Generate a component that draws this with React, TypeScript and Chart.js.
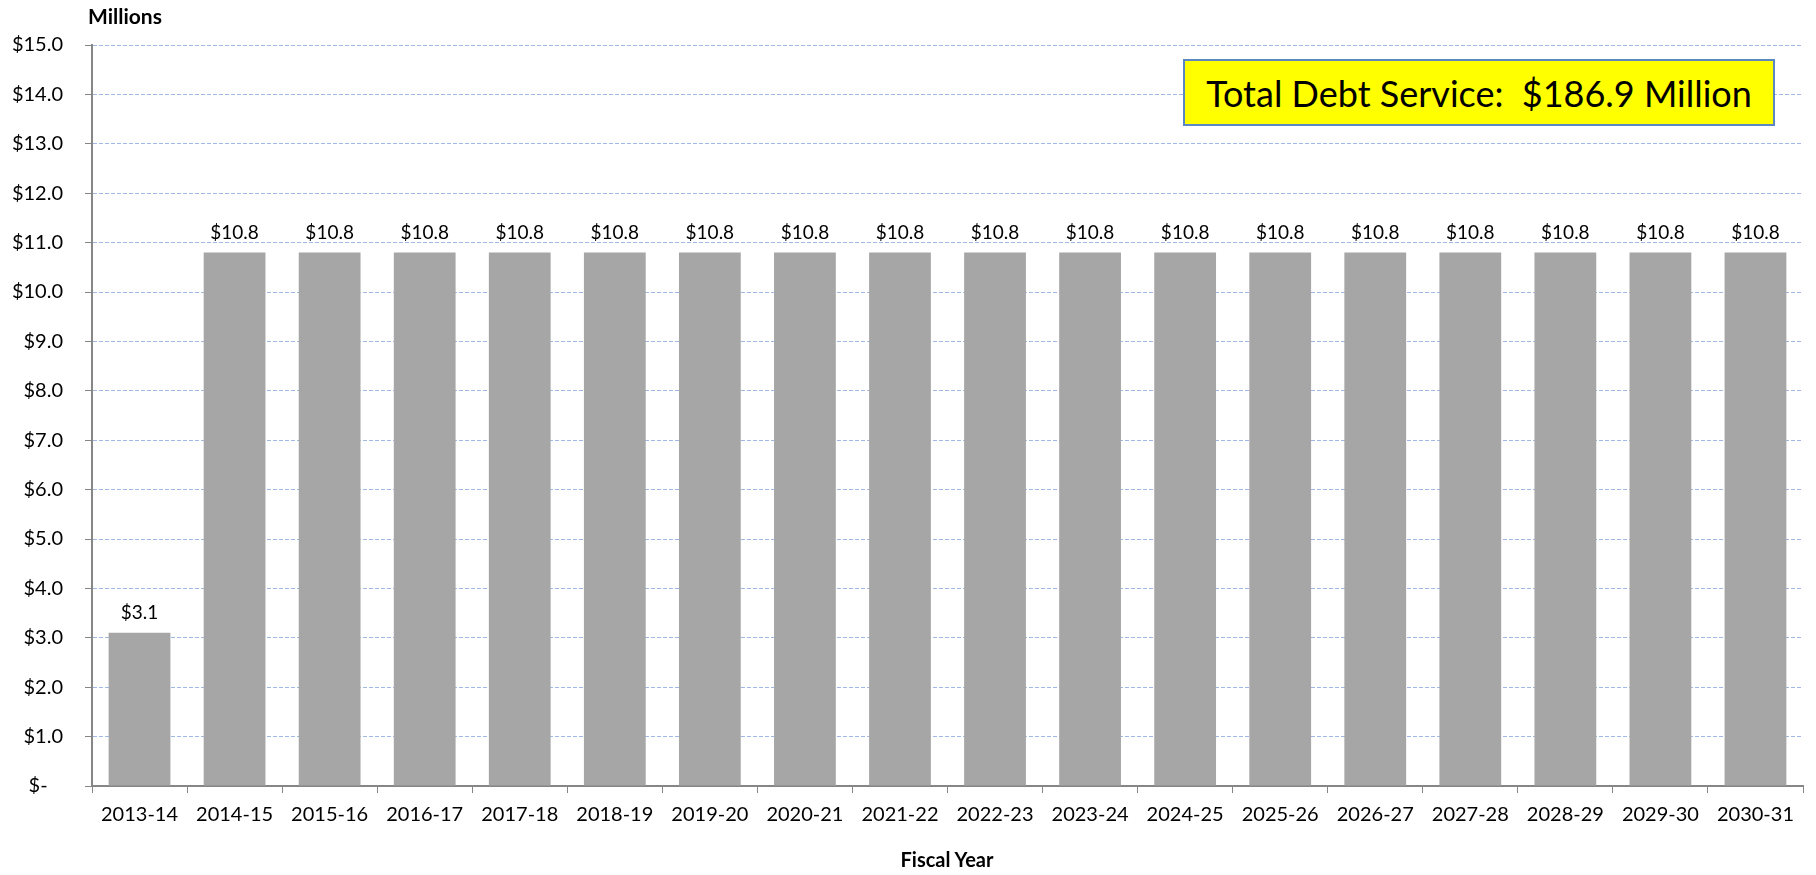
import React, { useEffect, useRef } from "react";
import { Chart, registerables } from "chart.js";

Chart.register(...registerables);

const categories = [
  "2013-14", "2014-15", "2015-16", "2016-17", "2017-18", "2018-19",
  "2019-20", "2020-21", "2021-22", "2022-23", "2023-24", "2024-25",
  "2025-26", "2026-27", "2027-28", "2028-29", "2029-30", "2030-31",
];
const debtService = [
  3.1, 10.8, 10.8, 10.8, 10.8, 10.8, 10.8, 10.8, 10.8,
  10.8, 10.8, 10.8, 10.8, 10.8, 10.8, 10.8, 10.8, 10.8,
];
const yMin = 0;
const yMax = 15;
const yStep = 1;
const boxText = "Total Debt Service:  $186.9 Million";
const yAxisTitle = "Millions";
const xAxisTitle = "Fiscal Year";

const FONT = "Lato, 'Noto Sans', sans-serif";

const dataLabelPlugin = {
  id: "dataLabels",
  afterDatasetsDraw(chart: any) {
    const ctx = chart.ctx;
    const meta = chart.getDatasetMeta(0);
    ctx.save();
    ctx.font = `19px ${FONT}`;
    ctx.fillStyle = "#000";
    ctx.textAlign = "center";
    ctx.textBaseline = "bottom";
    meta.data.forEach((bar: any, i: number) => {
      const v = chart.data.datasets[0].data[i];
      ctx.fillText("$" + Number(v).toFixed(1), bar.x, bar.y - 10);
    });
    ctx.restore();
  },
};

export default function App() {
  const canvasRef = useRef<HTMLCanvasElement | null>(null);

  useEffect(() => {
    if (!canvasRef.current) return;
    const chart = new Chart(canvasRef.current, {
      type: "bar",
      data: {
        labels: categories,
        datasets: [
          {
            data: debtService,
            backgroundColor: "#A6A6A6",
            borderWidth: 0,
            barPercentage: 0.65,
            categoryPercentage: 1,
          },
        ],
      },
      options: {
        animation: false,
        responsive: true,
        maintainAspectRatio: false,
        layout: { padding: { left: 0, right: 13, top: 45, bottom: 0 } },
        plugins: {
          legend: { display: false },
          tooltip: { enabled: false },
        },
        scales: {
          x: {
            grid: {
              display: true,
              drawOnChartArea: false,
              drawTicks: true,
              tickLength: 7,
              color: "#868686",
              offset: true,
            },
            border: { display: true, color: "#868686", width: 2 },
            ticks: {
              font: { family: FONT, size: 20 },
              color: "#000",
              padding: 10,
              maxRotation: 0,
              autoSkip: false,
            },
            afterFit: (scale: any) => {
              scale.height = 89;
            },
          },
          y: {
            min: yMin,
            max: yMax,
            grid: {
              color: (c: any) => (c.tick && c.tick.value === 0 ? "rgba(0,0,0,0)" : "#A0B8E4"),
              tickColor: "#868686",
              tickLength: 7,
              drawTicks: true,
              tickBorderDash: [],
            },
            border: { display: true, color: "#868686", width: 2, dash: [4, 2] },
            ticks: {
              stepSize: yStep,
              font: { family: FONT, size: 20 },
              color: "#000",
              padding: 22,
              callback: (v: any) => (Number(v) === 0 ? "$-   " : "$" + Number(v).toFixed(1)),
            },
            afterFit: (scale: any) => {
              scale.width = 92;
            },
          },
        },
      },
      plugins: [dataLabelPlugin],
    });
    return () => chart.destroy();
  }, []);

  return (
    <div style={{ position: "absolute", left: 0, top: 0, width: 1816, height: 875, background: "#fff" }}>
      <canvas ref={canvasRef} />
      <div
        style={{
          position: "absolute",
          left: 88,
          top: 3,
          fontFamily: FONT,
          fontWeight: "bold",
          fontSize: 21,
          color: "#000",
        }}
      >
        {yAxisTitle}
      </div>
      <div
        style={{
          position: "absolute",
          left: 847,
          width: 200,
          top: 847,
          textAlign: "center",
          fontFamily: FONT,
          fontWeight: "bold",
          fontSize: 20,
          color: "#000",
        }}
      >
        {xAxisTitle}
      </div>
      <div
        style={{
          position: "absolute",
          left: 1183,
          top: 59,
          width: 592,
          height: 67,
          boxSizing: "border-box",
          background: "#FFFF00",
          border: "2px solid #5B87C5",
          display: "flex",
          alignItems: "center",
          justifyContent: "center",
          overflow: "hidden",
        }}
      >
        <span
          style={{
            display: "inline-block",
            fontFamily: FONT,
            fontSize: 36,
            color: "#000",
            whiteSpace: "pre",
          }}
        >
          {boxText}
        </span>
      </div>
    </div>
  );
}
